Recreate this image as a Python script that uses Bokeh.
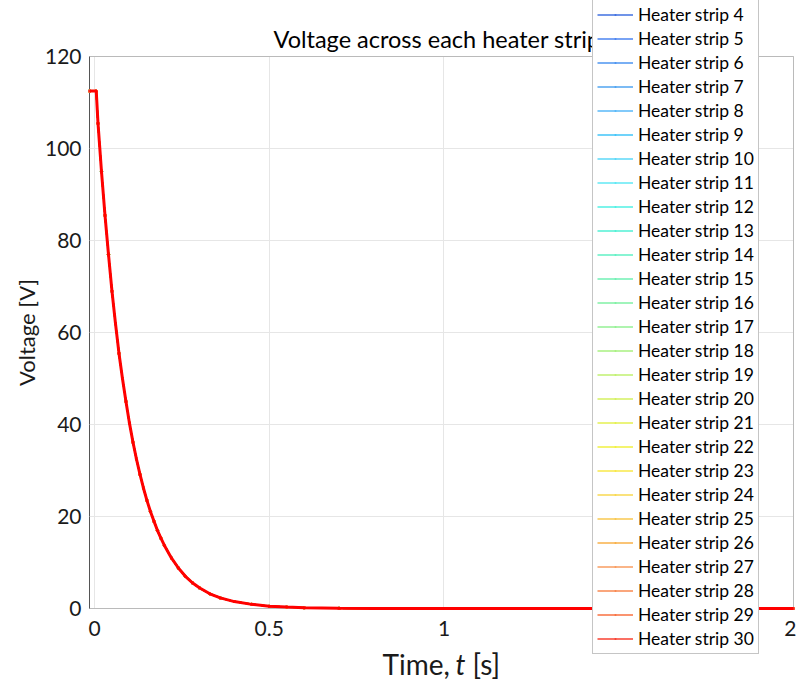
from bokeh.plotting import figure
from bokeh.models import (Range1d, FixedTicker, LinearAxis, Legend, LegendItem,
                          Label, BoxAnnotation, Grid)
from bokeh.embed import file_html
from bokeh.resources import INLINE

# Voltage across the heater strips after switch-off (same trace for every strip)
time_s = [-0.014, 0.005, 0.01, 0.02, 0.03, 0.04, 0.05, 0.06, 0.07, 0.08, 0.09,
          0.10, 0.11, 0.12, 0.13, 0.14, 0.15, 0.16, 0.17, 0.18, 0.19, 0.20,
          0.22, 0.24, 0.26, 0.28, 0.30, 0.33, 0.36, 0.40, 0.45, 0.50, 0.55,
          0.60, 0.70, 0.80, 1.00, 1.50, 2.00]
voltage_v = [112.5, 112.5, 105.5, 95.0, 85.5, 77.0, 69.0, 62.0, 55.5, 50.0, 45.0,
             40.3, 36.2, 32.5, 29.2, 26.2, 23.5, 21.1, 19.0, 17.0, 15.3, 13.7,
             11.0, 8.8, 7.0, 5.6, 4.5, 3.2, 2.3, 1.5, 0.9, 0.5, 0.3,
             0.15, 0.05, 0.0, 0.0, 0.0, 0.0]

strip_names = [f"Heater strip {i}" for i in range(1, 31)]
strip_colors = ["#4848d0", "#4458e0", "#4064e8", "#4070e0", "#4c84f0", "#4c94f0",
                "#50a4f0", "#58b8f8", "#40c4f8", "#5cd8f8", "#60e8f4", "#50f0e4",
                "#50f0d4", "#60f0c4", "#70f0b4", "#80f0a4", "#94f094", "#a8f080",
                "#c0f070", "#d4f060", "#e4f050", "#f0f040", "#f8e848", "#f8d850",
                "#f8c850", "#f8b048", "#f89c60", "#f88850", "#f87040", "#f84030"]

x_ticks = [0, 0.5, 1, 1.5, 2]
x_tick_labels = ["0", "0.5", "1", "1.5", "2"]
y_ticks = [0, 20, 40, 60, 80, 100, 120]

# axes box limits (data units)
X_MIN, X_MAX = -0.0143, 2.0
Y_MIN, Y_MAX = 0, 120

FONT = "Lato"
AX_COLOR = "#555555"
TXT_COLOR = "#1a1a1a"

# The frame covers the whole canvas so the legend may run past the axes box;
# the ranges are padded so the box sits where the side margins would be.
W, H = 796, 687
BOX_L, BOX_R, BOX_T, BOX_B = 89, 793, 56, 608
px_x = (BOX_R - BOX_L) / (X_MAX - X_MIN)
px_y = (BOX_B - BOX_T) / (Y_MAX - Y_MIN)
x_range = Range1d(X_MIN - BOX_L / px_x, X_MAX + (W - BOX_R) / px_x)
y_range = Range1d(Y_MIN - (H - BOX_B) / px_y, Y_MAX + BOX_T / px_y)

p = figure(width=W, height=H, x_range=x_range, y_range=y_range,
           output_backend="svg", toolbar_location=None,
           min_border=0, min_border_left=0, min_border_right=0,
           min_border_top=0, min_border_bottom=0,
           x_axis_location=None, y_axis_location=None)
p.outline_line_color = None
p.background_fill_color = "white"
p.border_fill_color = "white"


def style_axis(ax, ticks):
    ax.level = "underlay"
    ax.ticker = FixedTicker(ticks=ticks)
    ax.axis_line_color = AX_COLOR
    ax.major_tick_line_color = AX_COLOR
    ax.major_tick_in = 5
    ax.major_tick_out = 0
    ax.minor_tick_line_color = None
    ax.major_label_text_font = FONT
    ax.major_label_text_color = TXT_COLOR
    ax.major_label_text_font_size = "21px"


xb = LinearAxis(fixed_location=Y_MIN, bounds=(X_MIN, X_MAX))
style_axis(xb, x_ticks)
xb.major_label_overrides = {t: s for t, s in zip(x_ticks, x_tick_labels)}
xb.major_label_standoff = 12
p.add_layout(xb, "below")

yl = LinearAxis(fixed_location=X_MIN, bounds=(Y_MIN, Y_MAX),
                axis_label="Voltage [V]")
style_axis(yl, y_ticks)
yl.major_label_standoff = 8
yl.axis_label_text_font = FONT
yl.axis_label_text_font_size = "22px"
yl.axis_label_text_font_style = "normal"
yl.axis_label_text_color = TXT_COLOR
yl.axis_label_standoff = 2
p.add_layout(yl, "left")

# grid restricted to the axes box
p.xgrid.ticker = FixedTicker(ticks=x_ticks)
p.ygrid.ticker = FixedTicker(ticks=y_ticks)
grid_color = "#e6e6e6"
if "cross_bounds" in Grid.properties():
    p.xgrid.grid_line_color = grid_color
    p.ygrid.grid_line_color = grid_color
    p.xgrid.cross_bounds = (Y_MIN, Y_MAX)
    p.ygrid.cross_bounds = (X_MIN, X_MAX)
else:
    p.xgrid.visible = False
    p.ygrid.visible = False
    p.segment(x0=x_ticks, y0=[Y_MIN] * len(x_ticks), x1=x_ticks,
              y1=[Y_MAX] * len(x_ticks), line_color=grid_color, line_width=1,
              level="underlay")
    p.segment(x0=[X_MIN] * len(y_ticks), y0=y_ticks, x1=[X_MAX] * len(y_ticks),
              y1=y_ticks, line_color=grid_color, line_width=1, level="underlay")

# axes box, drawn beneath the traces
p.add_layout(BoxAnnotation(left=X_MIN, right=X_MAX, bottom=Y_MIN, top=Y_MAX,
                           fill_alpha=0, line_color=AX_COLOR, line_width=1,
                           level="underlay"))

# one trace per heater strip
items = []
for name, color in zip(strip_names, strip_colors):
    r_line = p.line(time_s, voltage_v, line_color=color, line_width=1.5)
    r_dot = p.scatter(time_s, voltage_v, marker="dot", size=12,
                      fill_color=color, line_color=color)
    items.append(LegendItem(label=name, renderers=[r_line, r_dot]))

# emphasised trace on top
p.line(time_s, voltage_v, line_color="#ff0000", line_width=3)

# title
p.add_layout(Label(x=0.980, y=123.9, text="Voltage across each heater strip",
                   text_align="center", text_baseline="alphabetic",
                   text_font=FONT, text_font_size="23.5px", text_color="#000000"))

# x axis label with italic variable
lbl_kw = dict(y=-12.0, text_font=FONT, text_font_size="28px",
              text_color=TXT_COLOR, text_baseline="alphabetic",
              text_align="left")
p.add_layout(Label(x=0.8240, text="Time,", **lbl_kw))
p.add_layout(Label(x=1.0329, text="t", text_font_style="italic", **lbl_kw))
p.add_layout(Label(x=1.0815, text="[s]", **lbl_kw))

legend = Legend(items=items, location=(592, 33),
                label_text_font=FONT, label_text_font_size="17.5px",
                label_text_color="#000000",
                glyph_width=36, glyph_height=21, label_height=21,
                label_standoff=5, spacing=3, padding=4, margin=0,
                border_line_color="#8c8c8c", border_line_width=1,
                background_fill_color="white", background_fill_alpha=1.0)
p.add_layout(legend)

open("out.html", "w").write(file_html(p, INLINE))
